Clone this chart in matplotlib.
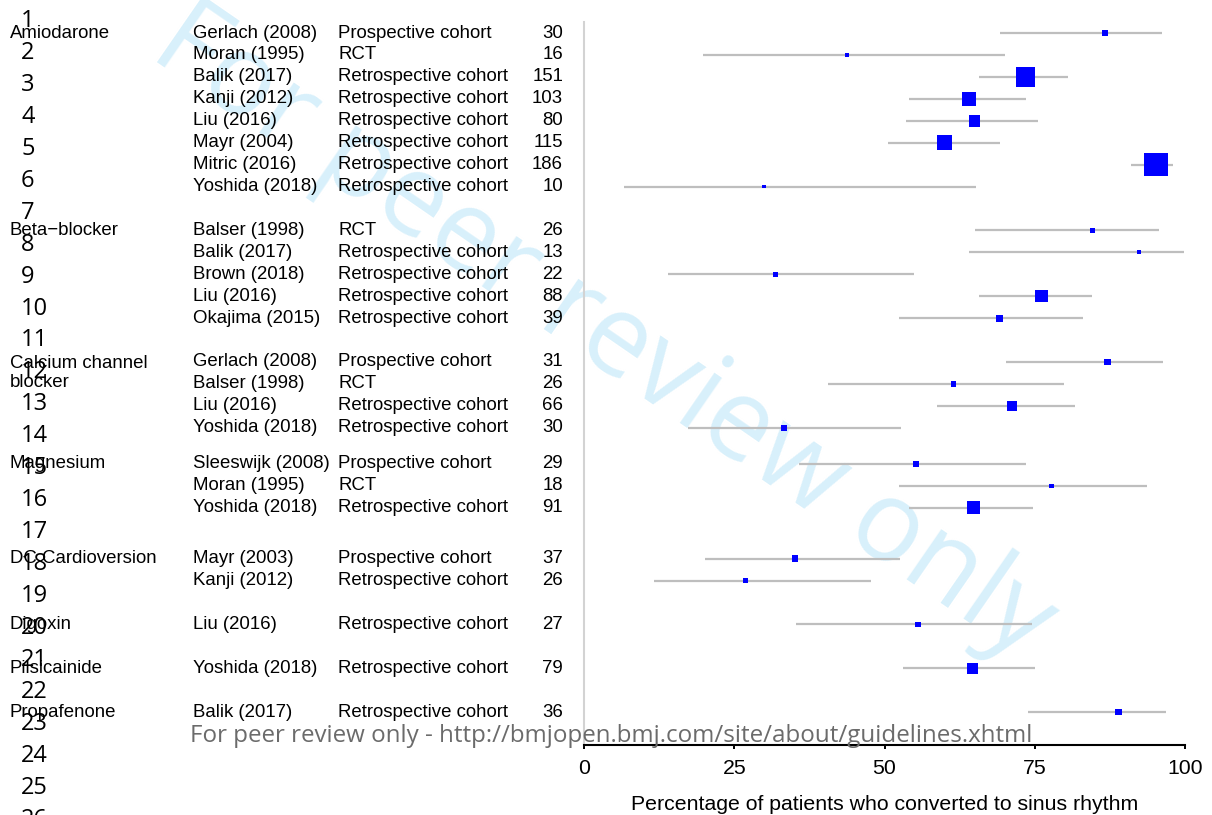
import matplotlib
matplotlib.use("Agg")
import matplotlib.pyplot as plt
from matplotlib.transforms import blended_transform_factory

# Data
therapies = ["Amiodarone", "Beta\u2212blocker", "Calcium channel\nblocker", "Magnesium",
             "DC Cardioversion", "Digoxin", "Pilsicainide", "Propafenone"]
group_sizes = [8, 5, 4, 3, 2, 1, 1, 1]

studies = ["Gerlach (2008)", "Moran (1995)", "Balik (2017)", "Kanji (2012)", "Liu (2016)",
           "Mayr (2004)", "Mitric (2016)", "Yoshida (2018)",
           "Balser (1998)", "Balik (2017)", "Brown (2018)", "Liu (2016)", "Okajima (2015)",
           "Gerlach (2008)", "Balser (1998)", "Liu (2016)", "Yoshida (2018)",
           "Sleeswijk (2008)", "Moran (1995)", "Yoshida (2018)",
           "Mayr (2003)", "Kanji (2012)",
           "Liu (2016)",
           "Yoshida (2018)",
           "Balik (2017)"]
designs = ["Prospective cohort", "RCT"] + ["Retrospective cohort"] * 6 + \
          ["RCT"] + ["Retrospective cohort"] * 4 + \
          ["Prospective cohort", "RCT", "Retrospective cohort", "Retrospective cohort"] + \
          ["Prospective cohort", "RCT", "Retrospective cohort"] + \
          ["Prospective cohort", "Retrospective cohort"] + \
          ["Retrospective cohort"] * 3
n_patients = [30, 16, 151, 103, 80, 115, 186, 10,
              26, 13, 22, 88, 39,
              31, 26, 66, 30,
              29, 18, 91,
              37, 26,
              27,
              79,
              36]
estimate = [86.7, 43.8, 73.5, 64.1, 65.0, 60.0, 95.2, 30.0,
            84.6, 92.3, 31.8, 76.1, 69.2,
            87.1, 61.5, 71.2, 33.3,
            55.2, 77.8, 64.8,
            35.1, 26.9,
            55.6,
            64.6,
            88.9]
ci_low = [69.3, 19.8, 65.7, 54.0, 53.5, 50.5, 91.0, 6.7,
          65.1, 64.0, 13.9, 65.8, 52.4,
          70.2, 40.6, 58.7, 17.3,
          35.7, 52.4, 54.1,
          20.2, 11.6,
          35.3,
          53.0,
          73.9]
ci_high = [96.2, 70.1, 80.5, 73.5, 75.5, 69.2, 98.0, 65.2,
           95.6, 99.8, 54.9, 84.5, 83.0,
           96.4, 79.8, 81.7, 52.8,
           73.6, 93.6, 74.7,
           52.5, 47.8,
           74.5,
           75.1,
           96.9]

# layout: blank space (in rows) before each group
group_gap = [0, 2, 2, 1.65, 2.32, 2, 2, 2]

W, H = 1212, 815
fig = plt.figure(figsize=(W / 100, H / 100), dpi=100)
ax = fig.add_axes([584 / W, 1 - 745 / H, (1185 - 584) / W, (745 - 22) / H])
ax.patch.set_alpha(0)

# row positions
positions = []
group_start = []
pos = -1
for g, size in enumerate(group_sizes):
    pos = pos + (group_gap[g] if g > 0 else 1)
    group_start.append(pos)
    for i in range(size):
        positions.append(pos + i)
    pos = pos + size - 1

row_px = 21.93
ax.set_ylim((745 - 33) / row_px, -11 / row_px)
ax.set_xlim(0, 100)

ax.hlines(positions, ci_low, ci_high, color="#bebebe", lw=1.6, zorder=2)
sides = [(2.6 + 0.112 * n) * 0.72 for n in n_patients]
ax.scatter(estimate, positions, marker="s", s=[s ** 2 for s in sides],
           color="#0000ff", linewidths=0, zorder=3)

for sp in ["top", "right"]:
    ax.spines[sp].set_visible(False)
ax.spines["left"].set_color("#d3d3d3")
ax.spines["left"].set_linewidth(1.5)
ax.spines["bottom"].set_color("black")
ax.spines["bottom"].set_linewidth(1.5)
ax.set_yticks([])
ax.set_xticks([0, 25, 50, 75, 100])
ax.tick_params(axis="x", length=3, width=1.4, pad=7, labelsize=15.3)
for lab in ax.get_xticklabels():
    lab.set_family(["Liberation Sans", "DejaVu Sans"])
ax.set_xlabel("Percentage of patients who converted to sinus rhythm",
              fontsize=15.3, family=["Liberation Sans", "DejaVu Sans"], labelpad=12)

# table columns
trans = blended_transform_factory(fig.transFigure, ax.transData)
tfont = dict(fontsize=13.4, family=["Liberation Sans", "DejaVu Sans"], va="center")
for g, name in enumerate(therapies):
    nlines = name.count("\n") + 1
    ax.text(10 / W, group_start[g] + (nlines - 1) / 2, name, transform=trans,
            ha="left", linespacing=1.19, clip_on=False, **tfont)
for p, s, d, n in zip(positions, studies, designs, n_patients):
    ax.text(193 / W, p, s, transform=trans, ha="left", clip_on=False, **tfont)
    ax.text(338 / W, p, d, transform=trans, ha="left", clip_on=False, **tfont)
    ax.text(563 / W, p, str(n), transform=trans, ha="right", clip_on=False, **tfont)

# page decorations: line numbers, watermark, footer
for k in range(1, 27):
    fig.text(21 / W, 1 - (21 + (k - 1) * 31.95) / H, str(k), va="center", ha="left",
             fontsize=17, family=["Open Sans", "DejaVu Sans"], color="black")

fig.text(603 / W, 1 - 334 / H, "For peer review only", rotation=-34.6,
         rotation_mode="anchor", ha="center", va="center", color="#d8f0fb",
         fontsize=81, family=["Open Sans", "DejaVu Sans"], zorder=-5)

footer = fig.text(190 / W, 1 - 736 / H,
                  "For peer review only - http://bmjopen.bmj.com/site/about/guidelines.xhtml",
                  ha="left", va="center", color="#6b6b6b", fontsize=15,
                  family=["Open Sans", "DejaVu Sans"])
fig.canvas.draw()
w = footer.get_window_extent().width
footer.set_fontsize(15 * 840 / w)

fig.savefig("out.png", dpi=100)
